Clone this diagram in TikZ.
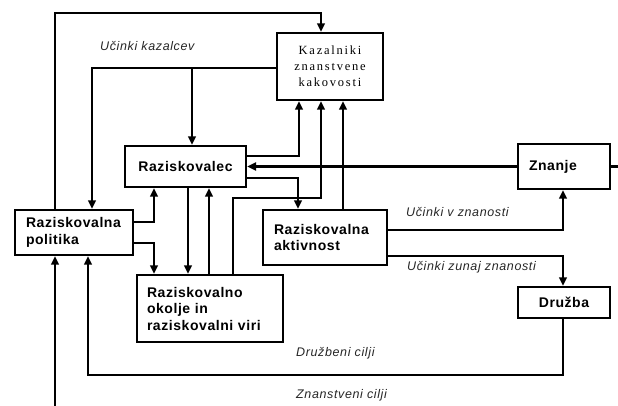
\documentclass[tikz,border=0pt]{standalone}
\usepackage{fontspec}
\usetikzlibrary{arrows.meta}
\newfontfamily\boxfont[LetterSpace=4]{Liberation Sans}
\newfontfamily\kazfont[LetterSpace=14]{Liberation Serif}
\newfontfamily\labfont[LetterSpace=5]{Liberation Sans}
\begin{document}
\begin{tikzpicture}[x=1pt,y=-1pt,
  box/.style={draw, line width=2.3pt, rectangle, inner sep=0pt,
    font=\boxfont\bfseries\fontsize{14}{16.5}\selectfont},
  conn/.style={line width=2.5pt},
  arr/.style={conn, -{Triangle[length=8.5pt,width=7.5pt]}},
  lab/.style={anchor=west, inner sep=0pt,
    font=\labfont\itshape\fontsize{12.5}{14}\selectfont, text=black!85}]
\useasboundingbox (0,0) rectangle (618,406);

% boxes
\node[box, minimum width=106pt, minimum height=67pt, align=center,
  font=\kazfont\fontsize{12.5}{16}\selectfont] (kaz) at (330,66.5)
  {Kazalniki\\znanstvene\\kakovosti};
\node[box, minimum width=121pt, minimum height=41pt] (raz) at (185.5,166.5) {Raziskovalec};
\node[box, minimum width=118pt, minimum height=45pt, text width=96pt,
  inner xsep=11pt, align=left] (pol) at (74,232.5) {Raziskovalna\\politika};
\node[box, minimum width=124pt, minimum height=55pt, text width=102pt,
  inner xsep=11pt, align=left] (akt) at (325,237.5) {Raziskovalna\\aktivnost};
\node[box, minimum width=146pt, minimum height=67pt, text width=126pt,
  inner xsep=10pt, align=left] (oko) at (210,308.5)
  {Raziskovalno\\okolje in\\raziskovalni viri};
\node[box, minimum width=92pt, minimum height=45pt, text width=70pt,
  inner xsep=11pt, align=left] (zna) at (564,166.5) {Znanje};
\node[box, minimum width=92pt, minimum height=31pt] (dru) at (564,302.5) {Družba};

% labels
\node[lab] (l1) at (100,46) {Učinki kazalcev};
\node[lab] (l2) at (406,212) {Učinki v znanosti};
\node[lab] (l3) at (407,267) {Učinki zunaj znanosti};
\node[lab] (l4) at (296,353) {Družbeni cilji};
\node[lab] (l5) at (296,395) {Znanstveni cilji};

% free ends
\coordinate (zout) at (618,166.5);
\coordinate (pin) at (55,406);
\coordinate (kbr) at (192,68);

% connectors
\draw[arr] (pol.north -| 55,0) -- (55,13) -| (kaz.north -| 321,0);
\draw[arr] (kaz.west |- 0,68) -| (pol.north -| 92,0);
\draw[arr] (kbr) -- (raz.north -| 192,0);
\draw[arr] (raz.east |- 0,156) -| (kaz.south -| 299,0);
\draw[arr] (oko.north -| 233,0) -- (233,198) -| (kaz.south -| 321,0);
\draw[arr] (akt.north -| 343,0) -- (kaz.south -| 343,0);
\draw[conn, line width=3.5pt, -{Triangle[length=9pt,width=8pt]}] (zna.west) -- (raz.east);
\draw[arr] (raz.east |- 0,178) -| (akt.north -| 298,0);
\draw[arr] (raz.south -| 188,0) -- (oko.north -| 188,0);
\draw[arr] (oko.north -| 209,0) -- (raz.south -| 209,0);
\draw[arr] (pol.east |- 0,222) -| (raz.south -| 154,0);
\draw[arr] (pol.east |- 0,243) -| (oko.north -| 154,0);
\draw[arr] (akt.east |- 0,230) -| (zna.south -| 563,0);
\draw[arr] (akt.east |- 0,256) -| (dru.north -| 563,0);
\draw[arr] (dru.south -| 563,0) |- (88,375) -- (pol.south -| 88,0);
\draw[conn] (zna.east) -- (zout);
\draw[arr] (pin) -- (pol.south -| 55,0);
\end{tikzpicture}
\end{document}
